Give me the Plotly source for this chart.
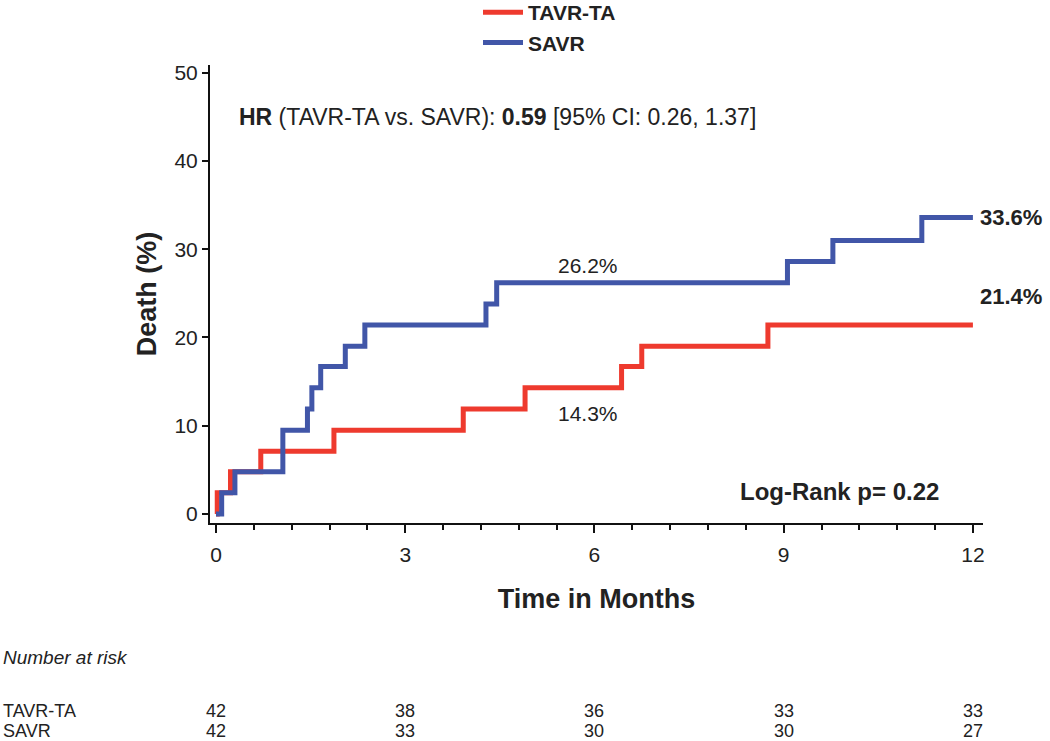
import plotly.graph_objects as go

# Kaplan-Meier step data (months, cumulative death %)
tavr_t = [0, 0.02, 0.23, 0.71, 1.87, 3.92, 4.90, 6.43, 6.75, 8.75, 12.0]
tavr_y = [0, 2.4, 4.8, 7.1, 9.5, 11.9, 14.3, 16.7, 19.0, 21.4, 21.4]
savr_t = [0, 0.09, 0.30, 1.06, 1.45, 1.52, 1.66, 2.05, 2.36, 4.28, 4.45, 9.06, 9.78, 11.19, 12.0]
savr_y = [0, 2.4, 4.8, 9.5, 11.9, 14.3, 16.7, 19.0, 21.4, 23.8, 26.2, 28.6, 31.0, 33.6, 33.6]

risk_times = [0, 3, 6, 9, 12]
risk_tavr = [42, 38, 36, 33, 33]
risk_savr = [42, 33, 30, 30, 27]

RED = "#EE3A2E"
BLUE = "#4156A8"
SANS = "Liberation Sans, Arial, sans-serif"
TXT = "#222"

L, R, T, B = 210, 67, 65, 218
PH = 741 - T - B
PW = 1050 - L - R

fig = go.Figure()
fig.add_trace(go.Scatter(x=tavr_t, y=tavr_y, mode="lines", line=dict(shape="hv", color=RED, width=5),
                         name="<b>TAVR-TA</b>"))
fig.add_trace(go.Scatter(x=savr_t, y=savr_y, mode="lines", line=dict(shape="hv", color=BLUE, width=5),
                         name="<b>SAVR</b>"))

fig.update_layout(
    width=1050, height=741,
    margin=dict(l=L, r=R, t=T, b=B, autoexpand=False),
    plot_bgcolor="white", paper_bgcolor="white",
    font=dict(family=SANS, size=18, color=TXT),
    legend=dict(x=(478 - L) / PW, y=1 + (T + 8) / PH, xanchor="left", yanchor="top",
                font=dict(family=SANS, size=21, color=TXT),
                bgcolor="rgba(0,0,0,0)", tracegroupgap=0, itemwidth=40),
    showlegend=True,
)
fig.update_xaxes(range=[-0.095, 12.16], tickvals=[0, 3, 6, 9, 12], ticks="outside", ticklen=8,
                 tickwidth=2, tickcolor="#111", showline=True, linecolor="#111", linewidth=2,
                 showgrid=False, zeroline=False, automargin=False, ticklabelstandoff=4,
                 minor=dict(tick0=0, dtick=0.6, ticks="outside", ticklen=5, tickwidth=1.5,
                            tickcolor="#111", showgrid=False),
                 tickfont=dict(family=SANS, size=21, color=TXT),
                 title=dict(text="<b>Time in Months</b>", font=dict(family=SANS, size=27, color=TXT), standoff=24))
fig.update_yaxes(range=[-1.02, 50.87], tickvals=[0, 10, 20, 30, 40, 50], ticks="outside", ticklen=6,
                 tickwidth=2, tickcolor="#111", showline=True, linecolor="#111", linewidth=2,
                 showgrid=False, zeroline=False, automargin=False,
                 tickfont=dict(family=SANS, size=21, color=TXT),
                 title=dict(text="<b>Death (%)</b>", font=dict(family=SANS, size=27, color=TXT), standoff=10))

def py(pix):
    return (741 - B - pix) / PH

ann = [
    dict(x=0.35, y=45.0, xref="x", yref="y", xanchor="left",
         text="<b>HR</b> (TAVR-TA vs. SAVR): <b>0.59</b> [95% CI: 0.26, 1.37]",
         font=dict(family=SANS, size=23, color=TXT)),
    dict(x=5.9, y=28.2, xref="x", yref="y", text="26.2%", font=dict(family=SANS, size=21, color=TXT)),
    dict(x=5.9, y=11.4, xref="x", yref="y", text="14.3%", font=dict(family=SANS, size=21, color=TXT)),
    dict(x=12.1, y=33.6, xref="x", yref="y", xanchor="left", text="<b>33.6%</b>",
         font=dict(family=SANS, size=22, color=TXT)),
    dict(x=12.1, y=24.6, xref="x", yref="y", xanchor="left", text="<b>21.4%</b>",
         font=dict(family=SANS, size=22, color=TXT)),
    dict(x=11.48, y=2.5, xref="x", yref="y", xanchor="right", text="<b>Log-Rank p= 0.22</b>",
         font=dict(family=SANS, size=24, color=TXT)),
    dict(x=-208 / PW, y=py(657), xref="paper", yref="paper", xanchor="left",
         text="<i>Number at risk</i>", font=dict(family=SANS, size=19, color=TXT)),
    dict(x=-208 / PW, y=py(711), xref="paper", yref="paper", xanchor="left",
         text="TAVR-TA", font=dict(family=SANS, size=18, color=TXT)),
    dict(x=-208 / PW, y=py(731), xref="paper", yref="paper", xanchor="left",
         text="SAVR", font=dict(family=SANS, size=18, color=TXT)),
]
for t, a, b in zip(risk_times, risk_tavr, risk_savr):
    ann.append(dict(x=t, y=py(711), xref="x", yref="paper", text=str(a),
                    font=dict(family=SANS, size=18, color=TXT)))
    ann.append(dict(x=t, y=py(731), xref="x", yref="paper", text=str(b),
                    font=dict(family=SANS, size=18, color=TXT)))
for a in ann:
    a["showarrow"] = False
    a.setdefault("yanchor", "middle")
    a["borderpad"] = 0
fig.update_layout(annotations=ann)

fig.write_html("out.html", config={"displayModeBar": False},
               post_script="document.body.style.margin='0px';document.body.style.overflow='hidden';")
